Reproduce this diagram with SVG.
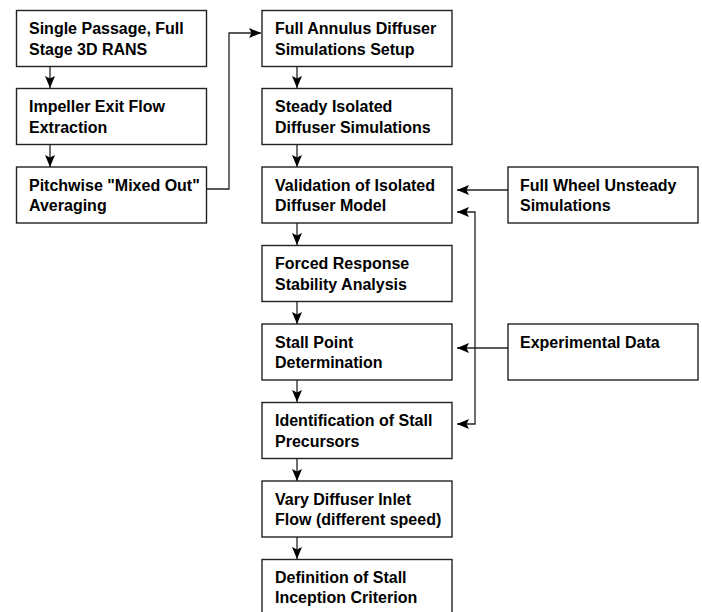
<svg xmlns="http://www.w3.org/2000/svg" width="702" height="612" viewBox="0 0 702 612">
<style>
.box{fill:#fff;stroke:#222;stroke-width:1.4}
.t{font-family:"Liberation Sans",Arial,sans-serif;font-weight:bold;font-size:16px;fill:#000}
.c{fill:none;stroke:#222;stroke-width:1.3}
</style>
<defs>
<marker id="ah" markerWidth="12" markerHeight="11" refX="12" refY="5.5" orient="auto" markerUnits="userSpaceOnUse">
<path d="M0,0.5 L12,5.5 L0,10.5 L2.5,5.5 Z" fill="#000"/>
</marker>
</defs>
<rect width="702" height="612" fill="#fff"/>
<g id="connectors">
<path class="c" d="M50,66 V88" marker-end="url(#ah)"/>
<path class="c" d="M50,145 V167" marker-end="url(#ah)"/>
<path class="c" d="M207,189 H229 V33 H261" marker-end="url(#ah)"/>
<path class="c" d="M297,66 V88" marker-end="url(#ah)"/>
<path class="c" d="M297,145 V167" marker-end="url(#ah)"/>
<path class="c" d="M297,223 V245" marker-end="url(#ah)"/>
<path class="c" d="M297,301 V324" marker-end="url(#ah)"/>
<path class="c" d="M297,380 V402" marker-end="url(#ah)"/>
<path class="c" d="M297,458 V481" marker-end="url(#ah)"/>
<path class="c" d="M297,537 V559" marker-end="url(#ah)"/>
<path class="c" d="M508,190 H457" marker-end="url(#ah)"/>
<path class="c" d="M508,348 H457" marker-end="url(#ah)"/>
<path class="c" d="M475,320 V212 H457" marker-end="url(#ah)"/>
<path class="c" d="M475,320 V424 H457" marker-end="url(#ah)"/>
</g>
<g id="n1"><rect class="box" x="16.5" y="10.5" width="190" height="56"/><text class="t" x="29" y="34">Single Passage, Full</text><text class="t" x="29" y="54.5">Stage 3D RANS</text></g>
<g id="n2"><rect class="box" x="16.5" y="88.5" width="190" height="56"/><text class="t" x="29" y="112">Impeller Exit Flow</text><text class="t" x="29" y="132.5">Extraction</text></g>
<g id="n3"><rect class="box" x="16.5" y="167" width="190" height="56"/><text class="t" x="29" y="190.5">Pitchwise "Mixed Out"</text><text class="t" x="29" y="211">Averaging</text></g>
<g id="n4"><rect class="box" x="262" y="10.5" width="190" height="56"/><text class="t" x="275" y="34">Full Annulus Diffuser</text><text class="t" x="275" y="54.5">Simulations Setup</text></g>
<g id="n5"><rect class="box" x="262" y="88.5" width="190" height="56"/><text class="t" x="275" y="112">Steady Isolated</text><text class="t" x="275" y="132.5">Diffuser Simulations</text></g>
<g id="n6"><rect class="box" x="262" y="167" width="190" height="56"/><text class="t" x="275" y="190.5">Validation of Isolated</text><text class="t" x="275" y="211">Diffuser Model</text></g>
<g id="n7"><rect class="box" x="262" y="245.5" width="190" height="56"/><text class="t" x="275" y="269">Forced Response</text><text class="t" x="275" y="289.5">Stability Analysis</text></g>
<g id="n8"><rect class="box" x="262" y="324" width="190" height="56"/><text class="t" x="275" y="347.5">Stall Point</text><text class="t" x="275" y="368">Determination</text></g>
<g id="n9"><rect class="box" x="262" y="402.5" width="190" height="56"/><text class="t" x="275" y="426">Identification of Stall</text><text class="t" x="275" y="446.5">Precursors</text></g>
<g id="n10"><rect class="box" x="262" y="481" width="190" height="56"/><text class="t" x="275" y="504.5">Vary Diffuser Inlet</text><text class="t" x="275" y="525">Flow (different speed)</text></g>
<g id="n11"><rect class="box" x="262" y="559.5" width="190" height="60"/><text class="t" x="275" y="582.5">Definition of Stall</text><text class="t" x="275" y="603">Inception Criterion</text></g>
<g id="n12"><rect class="box" x="508" y="167" width="190" height="56"/><text class="t" x="520" y="190.5">Full Wheel Unsteady</text><text class="t" x="520" y="211">Simulations</text></g>
<g id="n13"><rect class="box" x="508" y="324" width="190" height="56"/><text class="t" x="520" y="347.5">Experimental Data</text></g>
</svg>
